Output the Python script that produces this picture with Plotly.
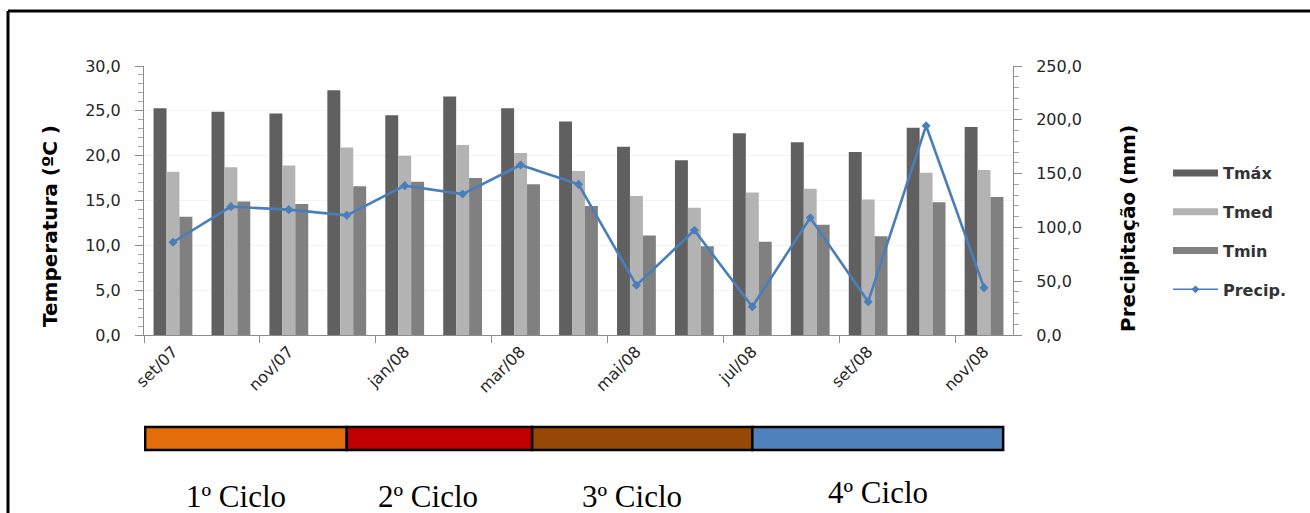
import plotly.graph_objects as go

# Monthly climate series
months = ["set/07", "out/07", "nov/07", "dez/07", "jan/08", "fev/08", "mar/08", "abr/08",
          "mai/08", "jun/08", "jul/08", "ago/08", "set/08", "out/08", "nov/08"]
tmax = [25.3, 24.9, 24.7, 27.3, 24.5, 26.6, 25.3, 23.8, 21.0, 19.5, 22.5, 21.5, 20.4, 23.1, 23.2]
tmed = [18.2, 18.7, 18.9, 20.9, 20.0, 21.2, 20.3, 18.3, 15.5, 14.2, 15.9, 16.3, 15.1, 18.1, 18.4]
tmin = [13.2, 14.9, 14.6, 16.6, 17.1, 17.5, 16.8, 14.4, 11.1, 9.9, 10.4, 12.3, 11.0, 14.8, 15.4]
precip = [86.2, 119.3, 116.5, 111.2, 138.8, 131.0, 158.0, 140.0, 46.2, 97.3, 26.3, 109.0, 31.0, 194.5, 44.0]

# Crop cycles along the month axis (edges in month index units)
cycle_names = ["1º Ciclo", "2º Ciclo", "3º Ciclo", "4º Ciclo"]
cycle_edges = [-0.48, 3.0, 6.2, 10.0, 14.33]

cycle_colors = ["#E46C0A", "#C00000", "#974806", "#4F81BD"]
bar_colors = {"Tmáx": "#606060", "Tmed": "#B3B3B3", "Tmin": "#808080"}
precip_color = "#4A7EBB"

W, H = 1310, 513
L, R, T, B = 144, 1013, 66, 335  # plot area in pixels


def px_x(p):
    return (p - L) / (R - L)


def px_y(p):
    return (B - p) / (B - T)


x = list(range(len(months)))
tick_font = dict(family="DejaVu Sans", size=16, color="#262626")

fig = go.Figure()
for name, vals in [("Tmáx", tmax), ("Tmed", tmed), ("Tmin", tmin)]:
    fig.add_trace(go.Bar(x=x, y=vals, name=name, marker_color=bar_colors[name],
                         marker_line_width=0, showlegend=False))
fig.add_trace(go.Scatter(x=x, y=precip, name="Precip.", yaxis="y2", mode="lines+markers",
                         line=dict(color=precip_color, width=2.6),
                         marker=dict(symbol="diamond", size=7, color=precip_color),
                         showlegend=False))

# Legend entries drawn as wide swatches
for i, name in enumerate(["Tmáx", "Tmed", "Tmin"]):
    fig.add_trace(go.Scatter(x=[None], y=[None], name=name, mode="lines",
                             line=dict(color=bar_colors[name], width=7),
                             legendgroup=name, legendrank=i))
fig.add_trace(go.Scatter(x=[None], y=[None], name="Precip.", mode="lines+markers",
                         line=dict(color=precip_color, width=1.5),
                         marker=dict(symbol="diamond", size=6, color=precip_color),
                         legendgroup="Precip.", legendrank=3))

shapes = []
# Cycle band below the axis
for i, c in enumerate(cycle_colors):
    shapes.append(dict(type="rect", xref="x", yref="paper",
                       x0=cycle_edges[i], x1=cycle_edges[i + 1],
                       y0=px_y(450), y1=px_y(427),
                       fillcolor=c, line=dict(color="black", width=2.5), layer="above"))
# Outer frame (top and left edges)
shapes.append(dict(type="line", xref="paper", yref="paper", x0=px_x(8), x1=px_x(1320),
                   y0=px_y(11), y1=px_y(11), line=dict(color="black", width=3)))
shapes.append(dict(type="line", xref="paper", yref="paper", x0=px_x(8), x1=px_x(8),
                   y0=px_y(11), y1=px_y(520), line=dict(color="black", width=3)))

annotations = []
label_shift = [-0.18, -0.19, -0.17, 0.0]
label_y = [496, 496, 496, 493]
for i, name in enumerate(cycle_names):
    mid = (cycle_edges[i] + cycle_edges[i + 1]) / 2 + label_shift[i]
    annotations.append(dict(text=name, x=mid, xref="x", y=px_y(label_y[i]), yref="paper",
                            showarrow=False, xanchor="center", yanchor="middle",
                            font=dict(family="Liberation Serif", size=31, color="black")))
annotations.append(dict(text="<b>Temperatura (ºC )</b>", textangle=-90,
                        x=px_x(50), xref="paper", y=px_y(226), yref="paper",
                        showarrow=False, xanchor="center", yanchor="middle",
                        font=dict(family="DejaVu Sans", size=20, color="black")))
annotations.append(dict(text="<b>Precipitação (mm)</b>", textangle=-90,
                        x=px_x(1128), xref="paper", y=px_y(229), yref="paper",
                        showarrow=False, xanchor="center", yanchor="middle",
                        font=dict(family="DejaVu Sans", size=20, color="black")))

fig.update_layout(
    width=W, height=H,
    margin=dict(l=L, r=W - R, t=T, b=H - B, autoexpand=False),
    paper_bgcolor="white", plot_bgcolor="white",
    separators=",.",
    barmode="group", bargap=0.33, bargroupgap=0,
    showlegend=True,
    legend=dict(x=px_x(1168), y=px_y(156), xanchor="left", yanchor="top",
                font=dict(family="DejaVu Sans", size=16, color="#333333", weight="bold"),
                traceorder="grouped", tracegroupgap=15, itemwidth=45,
                bgcolor="rgba(0,0,0,0)"),
    xaxis=dict(range=[-0.5, len(months) - 0.5], tickmode="array",
               tickvals=x[::2], ticktext=months[::2], tickangle=-45,
               tickfont=tick_font, ticks="", showgrid=False, zeroline=False,
               showline=True, linecolor="#8C8C8C", linewidth=1,
               minor=dict(tickmode="array", tickvals=[v - 0.5 for v in x[::2]],
                          ticks="outside", ticklen=7, tickcolor="#8C8C8C", showgrid=False)),
    yaxis=dict(range=[0, 30], dtick=5, tickformat=".1f", tickfont=tick_font,
               ticks="outside", ticklen=8, tickcolor="#8C8C8C", ticklabelstandoff=11,
               showline=True, linecolor="#8C8C8C", linewidth=1,
               showgrid=True, gridcolor="#F3F3F3", zeroline=False,
               minor=dict(dtick=1, ticks="outside", ticklen=5, tickcolor="#A6A6A6", showgrid=False)),
    yaxis2=dict(range=[0, 250], dtick=50, tickformat=".1f", tickfont=tick_font,
                overlaying="y", side="right",
                ticks="outside", ticklen=8, tickcolor="#8C8C8C", ticklabelstandoff=11,
                showline=True, linecolor="#8C8C8C", linewidth=1,
                showgrid=False, zeroline=False,
                minor=dict(dtick=10, ticks="outside", ticklen=5, tickcolor="#A6A6A6")),
    shapes=shapes,
    annotations=annotations,
)

fig.write_html("out.html")
